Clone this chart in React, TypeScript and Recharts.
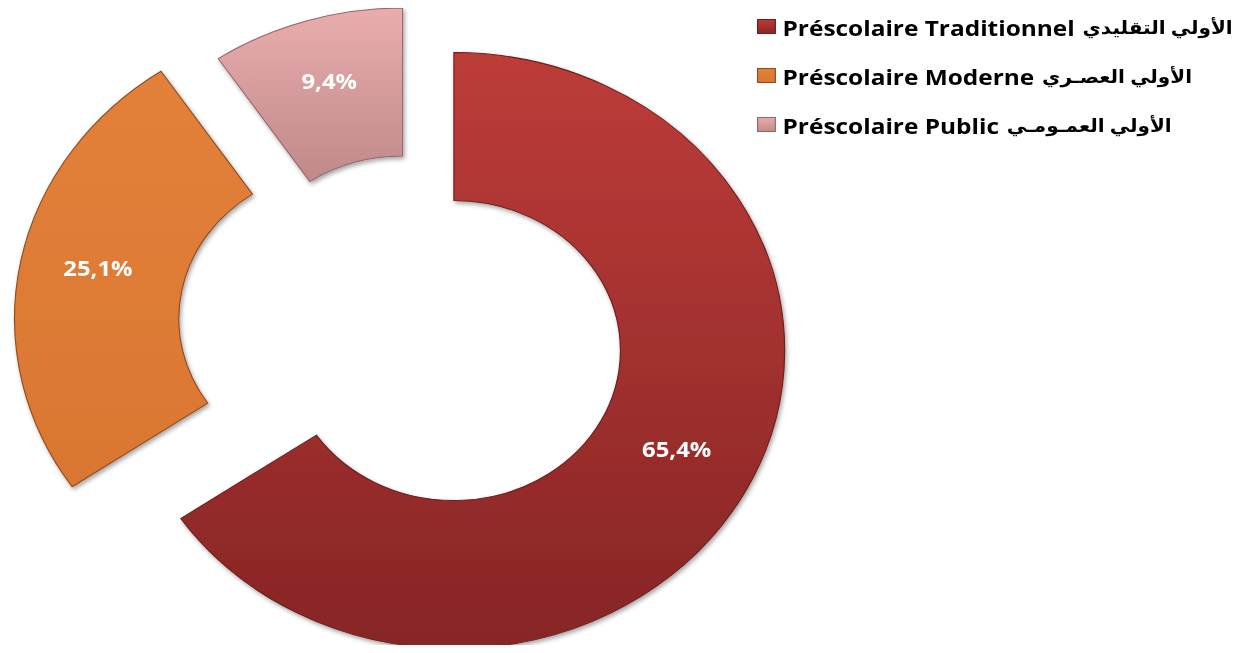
import { Pie, PieChart, Sector } from "recharts";

// --- Data ---

const categories = [
  "Préscolaire Traditionnel",
  "Préscolaire Moderne",
  "Préscolaire Public",
];
const arabicNames = ["الأولي التقليدي", "الأولي العصـري", "الأولي العمـومـي"];
const shares = [65.4, 25.1, 9.4];

// --- Styles ---

const gradients = [
  ["#bd3c39", "#872525"],
  ["#e3813a", "#d97732"],
  ["#eaadae", "#bf898a"],
];
const strokes = ["#6e1c1c", "#8e4a1c", "#946667"];
// explosion distance per slice (px, before horizontal stretch)
const explode = [44, 60, 25];
// the original picture is stretched horizontally
const SX = 1.11;
const FONT = "'Open Sans', 'DejaVu Sans', sans-serif";
const RAD = Math.PI / 180;

const data = categories.map((name, i) => ({
  name,
  ar: arabicNames[i],
  value: shares[i],
  fill: `url(#grad${i})`,
  stroke: strokes[i],
}));

const fmt = (v: number) => `${v.toFixed(1).replace(".", ",")}%`;

const ExplodedSlice = (props: any) => {
  const i = categories.indexOf(props.name ?? props.payload?.name);
  const d = explode[i] ?? 0;
  const a = props.midAngle * RAD;
  return (
    <Sector
      {...props}
      cx={props.cx + d * Math.cos(a)}
      cy={props.cy - d * Math.sin(a)}
      filter="url(#shadow)"
    />
  );
};

const SliceLabel = (props: any) => {
  const { cx, cy, midAngle, innerRadius, outerRadius, value, index } = props;
  const d = explode[index] ?? 0;
  const a = midAngle * RAD;
  const r = d + innerRadius + (outerRadius - innerRadius) * 0.52;
  const x = cx + r * Math.cos(a);
  const y = cy - r * Math.sin(a) - 8;
  return (
    <text
      x={x}
      y={y}
      fill="#ffffff"
      fontFamily={FONT}
      fontWeight={700}
      fontSize={21.5}
      textAnchor="middle"
      dominantBaseline="central"
    >
      {fmt(value)}
    </text>
  );
};

export default function App() {
  return (
    <div
      style={{
        position: "relative",
        width: 1240,
        height: 653,
        margin: -8,
        background: "#ffffff",
        overflow: "hidden",
      }}
    >
      <div
        style={{
          position: "absolute",
          left: 0,
          top: 0,
          transform: `scaleX(${SX})`,
          transformOrigin: "0 0",
        }}
      >
        <PieChart
          width={720}
          height={653}
          margin={{ top: 0, right: 0, bottom: 0, left: 0 }}
        >
          <defs>
            {gradients.map(([top, bottom], i) => (
              <linearGradient key={i} id={`grad${i}`} x1="0" y1="0" x2="0" y2="1">
                <stop offset="0%" stopColor={top} />
                <stop offset="100%" stopColor={bottom} />
              </linearGradient>
            ))}
            <filter id="shadow" x="-10%" y="-10%" width="130%" height="130%">
              <feDropShadow dx="1.5" dy="2.5" stdDeviation="2" floodColor="#000" floodOpacity="0.35" />
            </filter>
          </defs>
          <Pie
            data={data}
            dataKey="value"
            nameKey="name"
            cx={370}
            cy={330}
            innerRadius={150}
            outerRadius={298}
            startAngle={90}
            endAngle={-270}
            strokeWidth={1}
            shape={ExplodedSlice}
            label={SliceLabel}
            labelLine={false}
            isAnimationActive={false}
          />
        </PieChart>
      </div>

      <div
        style={{
          position: "absolute",
          left: 757,
          top: 2,
          transform: `scaleX(${SX})`,
          transformOrigin: "0 0",
          fontFamily: FONT,
          fontWeight: 700,
          fontSize: 22,
          color: "#000",
        }}
      >
        {data.map((d, i) => (
          <div
            key={d.name}
            style={{ display: "flex", alignItems: "center", height: 49, whiteSpace: "nowrap" }}
          >
            <span
              style={{
                display: "inline-block",
                width: 17,
                height: 15,
                marginRight: 6,
                background: `linear-gradient(${gradients[i][0]}, ${gradients[i][1]})`,
                boxShadow: `inset 0 0 0 1px ${strokes[i]}`,
              }}
            />
            <span>{d.name}</span>
            <span style={{ fontSize: 18, marginLeft: 7 }}>{d.ar}</span>
          </div>
        ))}
      </div>
    </div>
  );
}
